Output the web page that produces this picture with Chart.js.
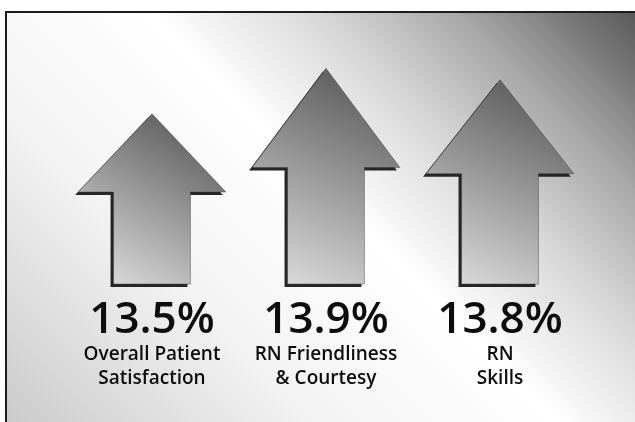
<!DOCTYPE html>
<html>
<head>
<meta charset="utf-8">
<script src="https://cdn.jsdelivr.net/npm/chart.js@4.4.1/dist/chart.umd.min.js"></script>
<style>
  html, body { margin: 0; padding: 0; background: #fff; }
</style>
</head>
<body>
<canvas id="arrowsChart" width="635" height="422"></canvas>
<script>
// Increase in survey scores, one arrow per item
const categories = [
    ['Overall Patient', 'Satisfaction'],
    ['RN Friendliness', '& Courtesy'],
    ['RN', 'Skills']
];
const increases = [13.5, 13.9, 13.8];
const axisMin = 12;
const axisMax = 14;

const formatPct = v => v.toFixed(1) + '%';

// Grey diagonal backdrop with the dark frame along the top and left
const backdrop = {
    id: 'backdrop',
    beforeDraw(chart) {
        const { ctx, width, height } = chart;
        ctx.save();
        ctx.fillStyle = '#ffffff';
        ctx.fillRect(0, 0, width, height);

        const g = ctx.createLinearGradient(0, 530, 640, -110);
        g.addColorStop(0.00, '#bcbcbc');
        g.addColorStop(0.09, '#cbcbcb');
        g.addColorStop(0.34, '#f4f4f4');
        g.addColorStop(0.52, '#ffffff');
        g.addColorStop(0.65, '#d8d8d8');
        g.addColorStop(0.76, '#a8a8a8');
        g.addColorStop(0.90, '#5a5a5a');
        g.addColorStop(1.00, '#4a4a4a');
        ctx.fillStyle = g;
        ctx.fillRect(6, 12, width - 6, height - 12);

        ctx.strokeStyle = '#1c1c1c';
        ctx.lineWidth = 2;
        ctx.beginPath();
        ctx.moveTo(6, height);
        ctx.lineTo(6, 12);
        ctx.lineTo(width, 12);
        ctx.stroke();
        ctx.restore();
    }
};

// Each bar is redrawn as an up arrow, with its value printed under it
const arrowShapes = {
    id: 'arrowShapes',
    afterDatasetsDraw(chart) {
        const { ctx } = chart;
        const meta = chart.getDatasetMeta(0);

        meta.data.forEach((bar, i) => {
            const { x, y, base, width } = bar.getProps(['x', 'y', 'base', 'width'], true);
            const half = width / 2;
            const shaft = width * 0.26;
            const neck = y + (base - y) * 0.46;

            const outline = (dx, dy) => {
                ctx.beginPath();
                ctx.moveTo(x + dx, y + dy);
                ctx.lineTo(x + half + dx, neck + dy);
                ctx.lineTo(x + shaft + dx, neck + dy);
                ctx.lineTo(x + shaft + dx, base + dy);
                ctx.lineTo(x - shaft + dx, base + dy);
                ctx.lineTo(x - shaft + dx, neck + dy);
                ctx.lineTo(x - half + dx, neck + dy);
                ctx.closePath();
            };

            ctx.save();
            // drop shadow, down and to the left
            outline(-3, 3);
            ctx.fillStyle = '#262626';
            ctx.fill();

            const g = ctx.createLinearGradient(x + half * 0.7, y, x - half * 0.7, base);
            g.addColorStop(0, '#545454');
            g.addColorStop(1, '#dcdcdc');
            outline(0, 0);
            ctx.fillStyle = g;
            ctx.fill();
            ctx.lineWidth = 0.8;
            ctx.strokeStyle = 'rgba(50, 50, 50, 0.5)';
            ctx.stroke();

            ctx.fillStyle = '#0d0d0d';
            ctx.font = '600 44px "Open Sans", sans-serif';
            ctx.textAlign = 'center';
            ctx.textBaseline = 'alphabetic';
            ctx.fillText(formatPct(increases[i]), x, base + 49);
            ctx.restore();
        });
    }
};

const ctx = document.getElementById('arrowsChart').getContext('2d');

new Chart(ctx, {
    type: 'bar',
    data: {
        labels: categories,
        datasets: [{
            data: increases,
            base: axisMin,
            backgroundColor: 'rgba(0, 0, 0, 0)',
            borderWidth: 0,
            barPercentage: 1,
            categoryPercentage: 0.85
        }]
    },
    options: {
        responsive: false,
        animation: false,
        events: [],
        layout: {
            padding: { top: 57, left: 65, right: 48, bottom: 31 }
        },
        plugins: {
            legend: { display: false },
            tooltip: { enabled: false }
        },
        scales: {
            x: {
                grid: { display: false, drawTicks: false },
                border: { display: false },
                // room for the value line plus two label lines
                afterFit: scale => { scale.height = 107; },
                ticks: {
                    color: '#0d0d0d',
                    padding: 59,
                    autoSkip: false,
                    maxRotation: 0,
                    font: { family: '"Open Sans", sans-serif', size: 19, weight: '600', lineHeight: 1.26 }
                }
            },
            y: {
                display: false,
                min: axisMin,
                max: axisMax
            }
        }
    },
    plugins: [backdrop, arrowShapes]
});
</script>
</body>
</html>
